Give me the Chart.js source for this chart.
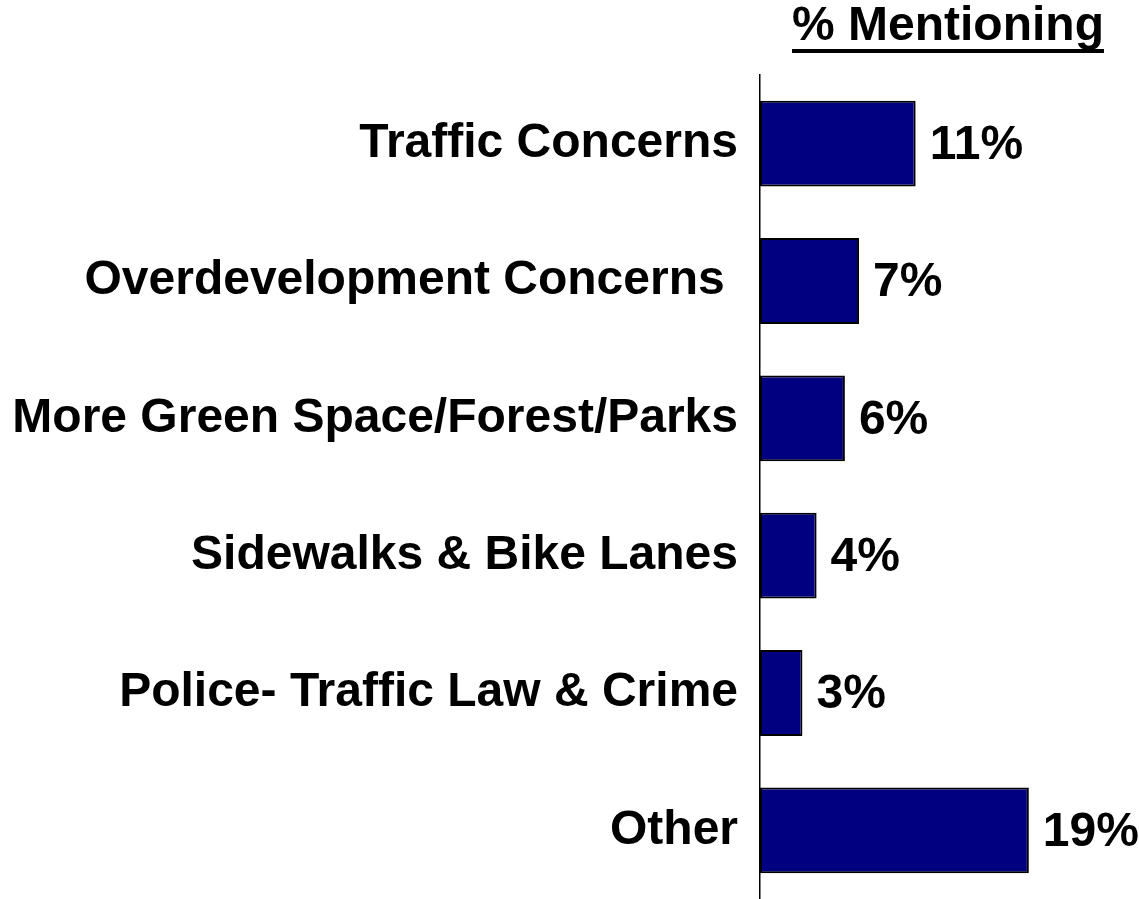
<!DOCTYPE html>
<html>
<head>
<meta charset="utf-8">
<script src="https://cdn.jsdelivr.net/npm/chart.js@4"></script>
<style>
  html, body { margin: 0; padding: 0; background: #fff; }
  #wrap { width: 1139px; height: 899px; }
</style>
</head>
<body>
<div id="wrap"><canvas id="chart" width="1139" height="899"></canvas></div>
<script>
const categories = [
  "Traffic Concerns",
  "Overdevelopment Concerns ",
  "More Green Space/Forest/Parks",
  "Sidewalks & Bike Lanes",
  "Police- Traffic Law & Crime",
  "Other"
];
const mentioning = [11, 7, 6, 4, 3, 19];
const valueLabels = ["11%", "7%", "6%", "4%", "3%", "19%"];
const headerText = "% Mentioning";

const FONT = "Liberation Sans, Arial, Helvetica, sans-serif";

// value labels at the end of each bar
const barLabels = {
  id: "barLabels",
  afterDatasetsDraw(chart) {
    const ctx = chart.ctx;
    const meta = chart.getDatasetMeta(0);
    ctx.save();
    ctx.font = "bold 48px " + FONT;
    ctx.fillStyle = "#000";
    ctx.textAlign = "left";
    ctx.textBaseline = "middle";
    meta.data.forEach((bar, i) => {
      ctx.fillText(valueLabels[i], bar.x + 14, bar.y + 2);
    });
    ctx.restore();
  }
};

// underlined header above the bars
const header = {
  id: "header",
  afterDraw(chart) {
    const ctx = chart.ctx;
    ctx.save();
    ctx.font = "bold 48px " + FONT;
    ctx.fillStyle = "#000";
    ctx.textAlign = "center";
    ctx.textBaseline = "alphabetic";
    const cx = 948;
    ctx.fillText(headerText, cx, 40);
    const w = ctx.measureText(headerText).width;
    ctx.fillRect(cx - w / 2, 49, w, 4);
    ctx.restore();
  }
};

new Chart(document.getElementById("chart"), {
  type: "bar",
  data: {
    labels: categories,
    datasets: [{
      data: mentioning,
      backgroundColor: "#000080",
      borderColor: "#000",
      borderWidth: 2,
      borderSkipped: false,
      barPercentage: 0.625,
      categoryPercentage: 1
    }]
  },
  options: {
    indexAxis: "y",
    responsive: false,
    animation: false,
    layout: { padding: { top: 75, right: 96, bottom: 0, left: 0 } },
    plugins: {
      legend: { display: false },
      title: { display: false },
      tooltip: { enabled: false }
    },
    scales: {
      x: {
        display: false,
        min: 0,
        max: 20
      },
      y: {
        grid: { display: false, drawTicks: false },
        border: { display: true, color: "#000", width: 1.5 },
        ticks: {
          color: "#000",
          padding: 22,
          font: { family: FONT, size: 48, weight: "bold" }
        },
        afterFit(scale) {
          scale.width = 760;
          scale.paddingTop = 0;
          scale.paddingBottom = 0;
        }
      }
    }
  },
  plugins: [barLabels, header]
});
</script>
</body>
</html>
